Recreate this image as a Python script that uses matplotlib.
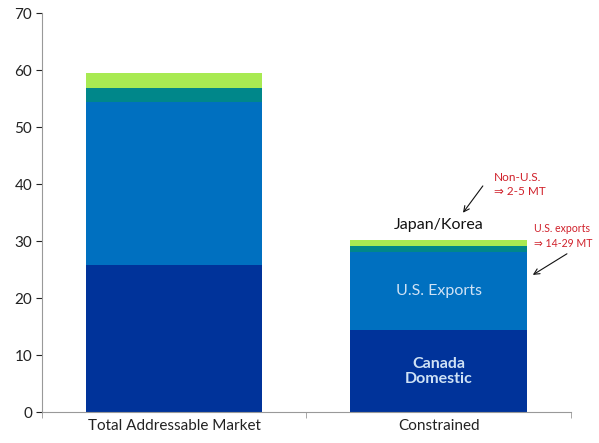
import numpy as np
import matplotlib.pyplot as plt

plt.rcParams['font.family'] = ['Lato', 'DejaVu Sans']

# Data (million tonnes)
categories = ["Total Addressable Market", "Constrained"]
canada_domestic = [25.9, 14.4]
us_exports = [28.5, 13.7]
other_non_us = [2.5, 1.0]
japan_korea = [2.6, 1.1]

colors = ['#00339A', '#0070C0', '#00878A', '#A8EA52']
series = [canada_domestic, us_exports, other_non_us, japan_korea]

fig = plt.figure(figsize=(5.99, 4.43), dpi=100)
ax = fig.add_axes([0.0701, 0.0693, 0.883, 0.901])

x = np.arange(len(categories))
bottom = np.zeros(len(categories))
for vals, c in zip(series, colors):
    ax.bar(x, vals, 0.667, bottom=bottom, color=c, linewidth=0)
    bottom += np.array(vals)

ax.set_xlim(-0.5, 1.5)
ax.set_ylim(0, 70)
ax.set_yticks(range(0, 71, 10))
ax.set_xticks(x)
ax.set_xticklabels(categories, fontsize=11)
ax.set_xticks([-0.5, 0.5, 1.5], minor=True)
ax.tick_params(axis='x', which='major', length=0, pad=5)
ax.tick_params(axis='x', which='minor', length=4, color='#999999', direction='out')
ax.tick_params(axis='y', length=4, color='#999999', labelsize=11, pad=3)
ax.tick_params(colors='#222222')
for s in ['top', 'right']:
    ax.spines[s].set_visible(False)
for s in ['left', 'bottom']:
    ax.spines[s].set_color('#999999')

# Segment labels on the constrained bar
ax.text(1, canada_domestic[1] / 2, "Canada\nDomestic", ha='center', va='center',
        fontsize=11.5, fontweight='bold', color='#CFE2F5', linespacing=1.1)
ax.text(1, canada_domestic[1] + us_exports[1] / 2, "U.S. Exports", ha='center', va='center',
        fontsize=11.5, color='#CFE2F5')
ax.text(1, bottom[1] + 2.6, "Japan/Korea", ha='center', va='center',
        fontsize=11.5, color='#111111')

# Range call-outs
red = '#D0202A'
ax.text(1.209, 39.9, "Non-U.S.\n\u21d2 2-5 MT", fontsize=8.5, color=red,
        ha='left', va='center', linespacing=1.35)
ax.annotate("", xy=(1.092, 35.0), xytext=(1.167, 39.7),
            arrowprops=dict(arrowstyle='->', color='#111111', lw=0.8,
                            shrinkA=0, shrinkB=0))
ax.text(1.362, 30.9, "U.S. exports\n\u21d2 14-29 MT", fontsize=7.6, color=red,
        ha='left', va='center', linespacing=1.45)
ax.annotate("", xy=(1.356, 24.1), xytext=(1.485, 27.8),
            arrowprops=dict(arrowstyle='->', color='#111111', lw=0.8,
                            shrinkA=0, shrinkB=0), annotation_clip=False)

fig.savefig("out.png", dpi=100)
